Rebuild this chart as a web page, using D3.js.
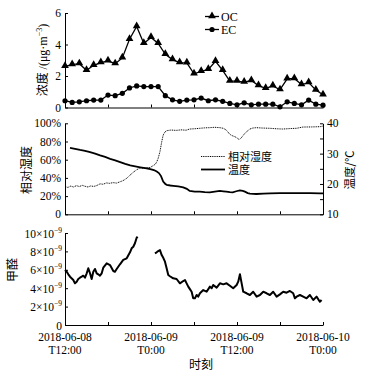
<!DOCTYPE html>
<html><head><meta charset="utf-8">
<script src="https://cdn.jsdelivr.net/npm/d3@7"></script>
<style>
html,body{margin:0;padding:0;background:#fff;}
svg{display:block;}
text{fill:#000;}
</style></head>
<body>
<script>
// ---------------- DATA ----------------
const startTime = "2018-06-08T12:00:00";
const hourlyOffsets = d3.range(0, 37); // hours after start, for OC/EC samples
const ocValues = [2.61,2.72,2.78,2.36,2.68,2.85,2.96,2.78,3.15,4.33,5.14,4.07,4.45,4.07,3.38,3.04,2.85,2.83,2.14,2.29,2.42,2.93,2.36,1.67,1.67,1.61,1.71,1.39,1.22,1.37,1.13,1.82,1.84,1.46,1.58,1.11,0.81];
const ecValues = [0.43,0.32,0.36,0.43,0.47,0.47,0.79,0.75,0.90,1.24,1.37,1.33,1.33,1.33,0.75,0.49,0.39,0.47,0.49,0.60,0.43,0.49,0.39,0.26,0.17,0.30,0.17,0.21,0.21,0.21,0.04,0.36,0.26,0.17,0.47,0.21,0.15];

const rhHours = [0,0.4,0.8,1.2,1.6,2.0,2.4,2.8,3.2,3.6,4.0,4.4,4.9,5.3,5.8,6.2,6.7,7.2,7.7,8.1,8.6,9.0,9.5,10.0,10.5,11.0,11.4,11.9,12.3,12.6,12.8,13.0,13.25,13.5,13.7,13.95,14.2,14.8,15.5,16.2,16.9,17.4,18.1,18.8,19.5,20.2,20.9,21.6,22.1,22.5,23.0,23.3,23.7,24.0,24.2,24.4,24.6,25.1,25.5,25.8,26.2,26.7,27.5,28.6,29.5,30.4,31.4,32.3,33.2,34.4,35.6,36.0];
const rhValues = [30.5,29.5,31.0,30.0,31.5,30.5,31.8,30.8,30.0,31.2,30.6,31.5,33.5,33.0,34.5,34.0,34.8,34.3,35.8,37.0,39.5,42.5,46.0,49.0,51.0,50.5,51.2,51.5,53.5,55.0,57.5,61.5,68.8,79.8,87.1,90.5,91.9,92.6,92.2,92.8,92.4,93.7,94.0,94.5,95.0,95.2,95.6,95.2,94.5,92.6,87.9,86.5,85.3,84.0,82.7,82.5,84.1,89.0,91.8,93.7,94.8,95.2,94.8,94.5,94.0,93.7,94.2,94.5,95.9,96.0,96.3,97.0];

const tempHours = [0.7,1.4,2.1,2.8,3.5,4.2,4.9,5.6,6.3,7.0,7.7,8.4,9.1,9.8,10.5,11.2,11.9,12.4,12.8,13.1,13.4,13.7,14.0,14.2,14.7,15.1,15.8,16.5,17.0,17.4,18.1,18.8,19.5,20.2,20.9,21.6,22.1,22.5,23.0,23.4,23.9,24.4,24.8,25.1,25.5,25.8,26.7,27.7,28.6,30.0,31.4,32.8,34.2,35.6,36.0];
const tempValues = [31.9,31.6,31.2,30.9,30.5,30.0,29.4,28.9,28.3,27.8,27.2,26.6,26.1,25.8,25.5,25.2,24.9,24.6,24.1,23.6,22.6,20.8,20.0,19.7,19.5,19.4,19.2,18.9,18.4,17.7,17.5,17.45,17.3,17.25,17.5,17.7,17.55,17.45,17.3,17.25,17.6,17.9,17.7,17.45,17.0,16.8,16.7,16.8,16.9,17.0,17.0,16.95,17.0,16.9,16.9];

// formaldehyde, units of 1e-9; null marks the data gap
const hchoHours = [0,0.24,0.46,0.70,1.16,1.39,1.63,1.85,2.09,2.33,2.55,2.79,3.03,3.25,3.49,3.72,3.95,4.18,4.42,4.64,4.88,5.12,5.34,5.82,6.28,6.74,6.97,7.21,7.67,8.13,8.61,9.07,9.30,9.53,9.76,10.0,10.14,
  11.3,
  12.55,12.79,13.01,13.25,13.49,13.71,13.95,14.18,14.41,14.64,15.10,15.57,16.04,16.5,16.74,16.97,17.2,17.43,17.67,17.89,18.13,18.37,18.59,18.83,19.29,19.76,20.22,20.46,20.68,21.16,21.62,22.08,22.55,23.01,23.47,23.95,24.17,24.41,24.65,24.87,25.34,25.80,26.26,26.74,27.20,27.66,28.13,28.59,29.05,29.53,29.99,30.45,30.92,31.38,31.84,32.08,32.32,32.78,33.24,33.71,34.17,34.64,35.10,35.56,35.80];
const hchoValues = [5.98,5.79,5.51,5.25,4.89,4.53,4.71,5.0,5.14,5.25,5.36,5.14,5.62,6.16,5.62,5.0,5.79,6.09,5.62,5.51,5.36,5.62,6.23,6.71,6.52,5.87,5.79,6.09,6.6,7.07,7.25,7.9,8.34,8.51,8.88,9.49,9.6,
  null,
  7.79,7.9,8.04,8.15,7.6,7.3,6.88,6.16,5.43,5.3,5.07,5.0,4.53,4.78,4.89,4.53,4.17,3.9,3.62,2.9,2.9,3.26,3.08,3.45,3.8,3.62,4.17,3.99,4.35,4.06,4.53,4.42,4.53,4.27,3.99,4.35,4.71,5.51,4.53,3.62,3.45,3.26,3.62,3.08,3.26,3.62,3.45,3.26,3.62,3.08,3.33,3.62,3.51,3.7,3.45,2.9,3.08,3.26,3.08,2.9,3.26,2.72,3.08,2.53,2.72];

const concTicks = [0,2,4,6];
const rhTicks = [0,20,40,60,80,100];
const tempTicks = [10,20,30,40];
const tempMinorTicks = [15,25,35];
const hchoTicks = [0,2,4,6,8,10];
const xLabelHours = [0,12,24,36];
const xLabelLines = [["2018-06-08","T12:00"],["2018-06-09","T0:00"],["2018-06-09","T12:00"],["2018-06-10","T0:00"]];

// ---------------- LAYOUT ----------------
const W = 368, H = 378;
const L = 65, R = 323;
const p1 = {top: 13, bottom: 107.5};
const p2 = {top: 123.3, bottom: 214.3};
const p3 = {top: 233, bottom: 325};
const serif = '"Liberation Serif","Times New Roman",serif';
const cjk = '"Noto Sans CJK SC","Noto Sans CJK JP",sans-serif';
const serifCjk = '"Liberation Serif","Noto Sans CJK SC",serif';

const svg = d3.select("body").append("svg").attr("width", W).attr("height", H)
  .style("background", "#fff");

const t0 = new Date(startTime);
const toDate = h => new Date(t0.getTime() + h * 3600e3);
const x = d3.scaleTime().domain([toDate(0), toDate(36)]).range([L, R]);
const xTicks = d3.range(0, 37, 6).map(toDate);

function xAxis(g, yPos) {
  g.attr("transform", `translate(0,${yPos})`)
    .call(d3.axisBottom(x).tickValues(xTicks).tickSize(-3).tickSizeOuter(0).tickFormat(""))
    .call(s => s.select(".domain").attr("stroke", "#000").attr("stroke-width", 1))
    .call(s => s.selectAll(".tick line").attr("stroke", "#000"));
}
function yAxisLeft(g, scale, ticks, fmt) {
  g.attr("transform", `translate(${L},0)`)
    .call(d3.axisLeft(scale).tickValues(ticks).tickSize(-3).tickSizeOuter(0).tickPadding(4).tickFormat(fmt))
    .call(s => s.select(".domain").attr("stroke", "#000"))
    .call(s => s.selectAll(".tick line").attr("stroke", "#000"))
    .call(s => s.selectAll(".tick text").attr("font-family", serif).attr("font-size", 11.5).attr("fill", "#000"));
}

// ---------- Panel 1 : OC / EC ----------
const y1 = d3.scaleLinear().domain([0, 6]).range([p1.bottom, p1.top]);
svg.append("g").call(xAxis, p1.bottom);
svg.append("g").call(yAxisLeft, y1, concTicks, d3.format("d"));

const ocData = hourlyOffsets.map((h, i) => [toDate(h), ocValues[i]]);
const ecData = hourlyOffsets.map((h, i) => [toDate(h), ecValues[i]]);
const line1 = d3.line().x(d => x(d[0])).y(d => y1(d[1]));
svg.append("path").datum(ocData).attr("d", line1).attr("fill", "none").attr("stroke", "#000").attr("stroke-width", 1.3);
svg.append("path").datum(ecData).attr("d", line1).attr("fill", "none").attr("stroke", "#000").attr("stroke-width", 1.3);
const tri = d3.symbol().type(d3.symbolTriangle).size(26);
svg.append("g").selectAll("path").data(ocData).join("path")
  .attr("d", tri).attr("transform", d => `translate(${x(d[0])},${y1(d[1]) - 0.6})`).attr("fill", "#000");
svg.append("g").selectAll("circle").data(ecData).join("circle")
  .attr("cx", d => x(d[0])).attr("cy", d => y1(d[1])).attr("r", 2.6).attr("fill", "#000");

// legend 1
const lg1 = svg.append("g");
lg1.append("line").attr("x1", 205).attr("x2", 219).attr("y1", 16.5).attr("y2", 16.5).attr("stroke", "#000").attr("stroke-width", 1.3);
lg1.append("path").attr("d", tri).attr("transform", "translate(212,16)").attr("fill", "#000");
lg1.append("text").attr("x", 221).attr("y", 20.5).attr("font-family", serif).attr("font-size", 12).text("OC");
lg1.append("line").attr("x1", 205).attr("x2", 219).attr("y1", 29.5).attr("y2", 29.5).attr("stroke", "#000").attr("stroke-width", 1.3);
lg1.append("circle").attr("cx", 212).attr("cy", 29.5).attr("r", 2.6).attr("fill", "#000");
lg1.append("text").attr("x", 221).attr("y", 33.5).attr("font-family", serif).attr("font-size", 12).text("EC");

// y title 1
const t1 = svg.append("text").attr("transform", "translate(47,60) rotate(-90)")
  .attr("text-anchor", "middle").attr("font-size", 12);
t1.append("tspan").attr("font-family", cjk).text("浓度 ");
t1.append("tspan").attr("font-family", serif).text("/(μg·m");
t1.append("tspan").attr("font-family", serif).attr("font-size", 8).attr("dy", -5).text("−3");
t1.append("tspan").attr("font-family", serif).attr("dy", 5).text(")");

// ---------- Panel 2 : RH / Temperature ----------
const y2 = d3.scaleLinear().domain([0, 100]).range([p2.bottom, p2.top]);
const y2r = d3.scaleLinear().domain([10, 40]).range([p2.bottom, p2.top]);
svg.append("g").call(xAxis, p2.bottom);
svg.append("g").call(yAxisLeft, y2, rhTicks, d => d === 0 ? "0" : d + "%");
svg.append("g").attr("transform", `translate(${R},0)`)
  .call(d3.axisRight(y2r).tickValues(tempTicks.concat(tempMinorTicks)).tickSize(-3).tickSizeOuter(0).tickPadding(4)
    .tickFormat(d => tempTicks.includes(d) ? d : ""))
  .call(s => s.select(".domain").attr("stroke", "#000"))
  .call(s => s.selectAll(".tick line").attr("stroke", "#000"))
  .call(s => s.selectAll(".tick text").attr("font-family", serif).attr("font-size", 11.5).attr("fill", "#000"));

const rhData = rhHours.map((h, i) => [toDate(h), rhValues[i]]);
const tempData = tempHours.map((h, i) => [toDate(h), tempValues[i]]);
svg.append("path").datum(rhData)
  .attr("d", d3.line().x(d => x(d[0])).y(d => y2(d[1])))
  .attr("fill", "none").attr("stroke", "#000").attr("stroke-width", 1).attr("stroke-dasharray", "1,0.8");
svg.append("path").datum(tempData)
  .attr("d", d3.line().x(d => x(d[0])).y(d => y2r(d[1])))
  .attr("fill", "none").attr("stroke", "#000").attr("stroke-width", 1.8);

// legend 2
svg.append("line").attr("x1", 201).attr("x2", 225).attr("y1", 156.5).attr("y2", 156.5)
  .attr("stroke", "#000").attr("stroke-width", 1).attr("stroke-dasharray", "1,0.8");
svg.append("text").attr("x", 228).attr("y", 160.5).attr("font-family", serifCjk).attr("font-size", 11).text("相对湿度");
svg.append("line").attr("x1", 201).attr("x2", 225).attr("y1", 169.5).attr("y2", 169.5)
  .attr("stroke", "#000").attr("stroke-width", 1.8);
svg.append("text").attr("x", 228).attr("y", 173.5).attr("font-family", serifCjk).attr("font-size", 11).text("温度");

// titles 2
svg.append("text").attr("transform", "translate(31,170) rotate(-90)").attr("text-anchor", "middle")
  .attr("font-family", cjk).attr("font-size", 12).text("相对湿度");
svg.append("text").attr("transform", "translate(354,170) rotate(-90)").attr("text-anchor", "middle")
  .attr("font-family", cjk).attr("font-size", 11.5).text("温度/℃");

// ---------- Panel 3 : Formaldehyde ----------
const y3 = d3.scaleLinear().domain([0, 10]).range([p3.bottom, p3.top]);
svg.append("g").call(xAxis, p3.bottom);
const ax3 = svg.append("g").attr("transform", `translate(${L},0)`)
  .call(d3.axisLeft(y3).tickValues(hchoTicks).tickSize(-3).tickSizeOuter(0).tickFormat(""))
  .call(s => s.select(".domain").attr("stroke", "#000"))
  .call(s => s.selectAll(".tick line").attr("stroke", "#000"));
ax3.selectAll(".tick").each(function(d) {
  const t = d3.select(this).append("text").attr("x", -3).attr("dy", "0.35em").attr("text-anchor", "end")
    .attr("font-family", serif).attr("font-size", 11.5).attr("fill", "#000");
  if (d === 0) { t.text("0"); return; }
  t.append("tspan").text(d + "×10");
  t.append("tspan").attr("font-size", 7.5).attr("dy", -5).text("−9");
});

const hchoData = hchoHours.map((h, i) => [toDate(h), hchoValues[i]]);
svg.append("path").datum(hchoData)
  .attr("d", d3.line().defined(d => d[1] !== null).x(d => x(d[0])).y(d => y3(d[1])))
  .attr("fill", "none").attr("stroke", "#000").attr("stroke-width", 2).attr("stroke-linejoin", "round");

svg.append("text").attr("transform", "translate(17,270) rotate(-90)").attr("text-anchor", "middle")
  .attr("font-family", cjk).attr("font-size", 12).text("甲醛");

// x labels
const xl = svg.append("g");
xLabelHours.forEach((h, i) => {
  const t = xl.append("text").attr("x", x(toDate(h))).attr("y", 341).attr("text-anchor", "middle")
    .attr("font-family", serif).attr("font-size", 11.5);
  t.append("tspan").attr("x", x(toDate(h))).text(xLabelLines[i][0]);
  t.append("tspan").attr("x", x(toDate(h))).attr("dy", 12.5).text(xLabelLines[i][1]);
});
svg.append("text").attr("x", 201).attr("y", 369).attr("text-anchor", "middle")
  .attr("font-family", cjk).attr("font-size", 12).text("时刻");
</script>
</body></html>
